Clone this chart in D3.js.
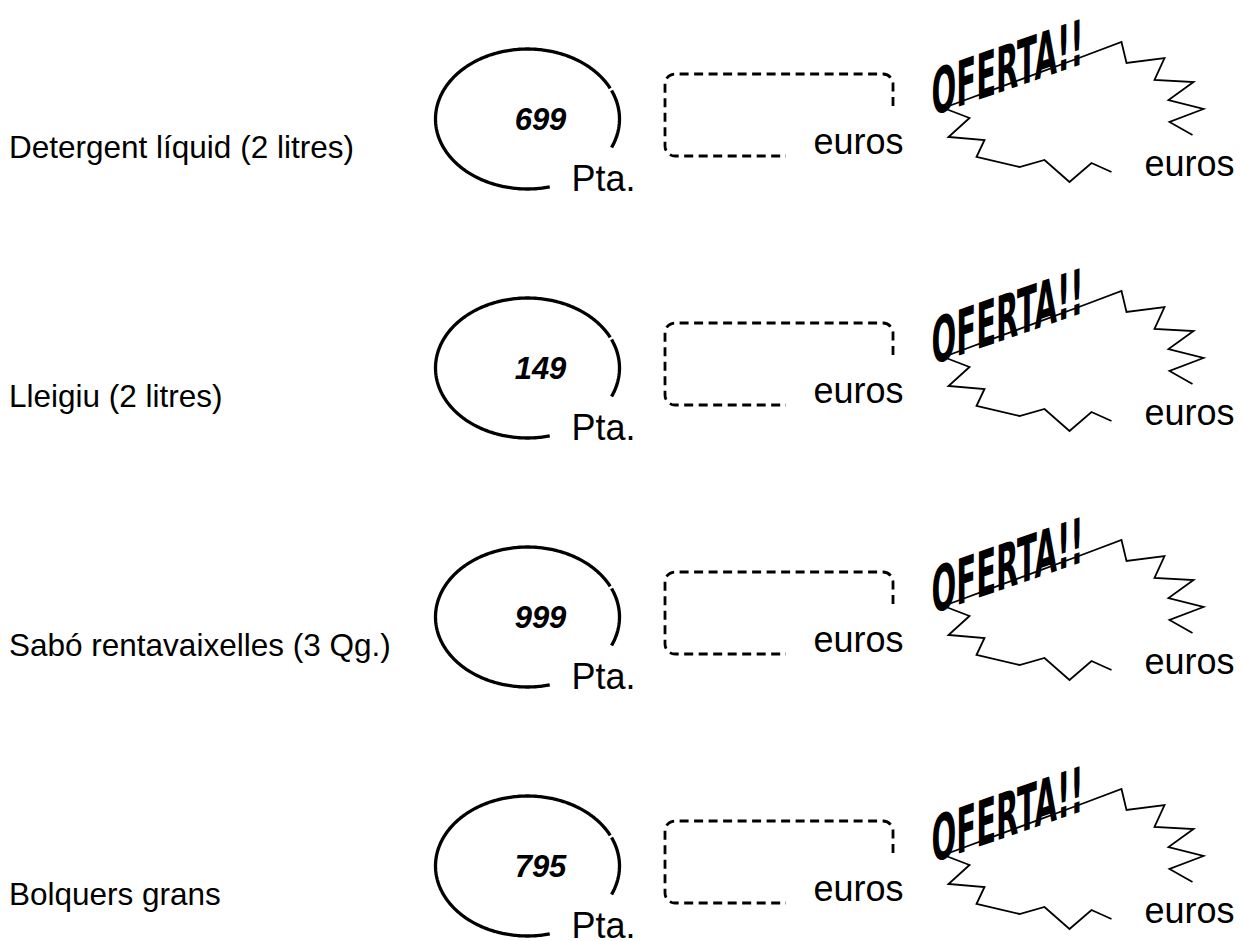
<!DOCTYPE html>
<html>
<head>
<meta charset="utf-8">
<script src="https://d3js.org/d3.v7.min.js"></script>
<style>
  body { margin: 0; background: #fff; }
  text { font-family: "Liberation Sans", Arial, sans-serif; fill: #000; }
</style>
</head>
<body>
<script>
// worksheet rows: product, price in pesetas
var labels = ["Detergent líquid (2 litres)", "Lleigiu (2 litres)", "Sabó rentavaixelles (3 Qg.)", "Bolquers grans"];
var pricesPta = [699, 149, 999, 795];
var unitPta = "Pta.";
var unitEuro = "euros";
var offerText = "OFERTA!!";

var width = 1243, height = 941;
var cx = 527.5;            // ellipse centre x
var rx = 92, ry = 70;      // ellipse radii

// star outline around the "OFERTA!!" word, relative to the ellipse centre
var burstShape = [
  [416, -11], [442, -1], [421, 18], [457, 21], [449, 38], [492, 48], [517, 41],
  [542, 63], [564, 44], [584, 53]
];
var burstShape2 = [
  [665, 16], [642, 3], [676, -10], [641, -19], [666, -37], [627, -39], [637, -61],
  [599, -56], [594, -77], [554, -62], [416, -11]
];

var items = labels.map(function (l, i) { return {label: l, price: pricesPta[i]}; });

var y = d3.scalePoint().domain(labels).range([119, 866]);

var svg = d3.select("body").append("svg")
    .attr("width", width)
    .attr("height", height);

svg.selectAll("text.label")
    .data(items)
    .join("text")
    .attr("class", "label")
    .attr("x", 9)
    .attr("y", function (d) { return y(d.label) + 39; })
    .style("font-size", "31.5px")
    .text(function (d) { return d.label; });

var rows = svg.selectAll("g.row")
    .data(items)
    .join("g")
    .attr("class", "row")
    .attr("transform", function (d) { return "translate(" + cx + "," + y(d.label) + ")"; });

// open ellipse (gap at lower right for "Pta.")
var rad = Math.PI / 180;
var ell = d3.line()
    .x(function (a) { return rx * Math.cos(a * rad); })
    .y(function (a) { return ry * Math.sin(a * rad); });
var seg1 = d3.range(76, 334.5, 1);
var seg2 = d3.range(336, 384.5, 1);

rows.append("path")
    .attr("d", ell(seg1) + ell(seg2))
    .attr("fill", "none")
    .attr("stroke", "#000")
    .attr("stroke-width", 3.3);

rows.append("text")
    .attr("x", 13)
    .attr("y", 11)
    .attr("text-anchor", "middle")
    .style("font-size", "31px")
    .style("font-weight", "bold")
    .style("font-style", "italic")
    .text(function (d) { return d.price; });

rows.append("text")
    .attr("x", 44)
    .attr("y", 72)
    .style("font-size", "36px")
    .text(unitPta);

// dashed open box for the euro answer
var bx0 = 137.5, by0 = -45, bx1 = 365.5, by1 = 37, r = 10;
var p = d3.path();
p.moveTo(bx1, by0 + 32);
p.lineTo(bx1, by0 + r);
p.arcTo(bx1, by0, bx1 - r, by0, r);
p.lineTo(bx0 + r, by0);
p.arcTo(bx0, by0, bx0, by0 + r, r);
p.lineTo(bx0, by1 - r);
p.arcTo(bx0, by1, bx0 + r, by1, r);
p.lineTo(bx0 + 121, by1);

rows.append("path")
    .attr("d", p.toString())
    .attr("fill", "none")
    .attr("stroke", "#000")
    .attr("stroke-width", 2.8)
    .attr("stroke-dasharray", "9,5.5");

rows.append("text")
    .attr("x", 286)
    .attr("y", 35)
    .style("font-size", "36px")
    .text(unitEuro);

// starburst
var burstLine = d3.line();
rows.append("path")
    .attr("d", burstLine(burstShape) + burstLine(burstShape2))
    .attr("fill", "none")
    .attr("stroke", "#000")
    .attr("stroke-width", 1.8)
    .attr("stroke-linejoin", "miter");

rows.append("text")
    .attr("transform", "translate(404,-3) skewY(-19)")
    .attr("textLength", 152)
    .attr("lengthAdjust", "spacingAndGlyphs")
    .style("font-family", "'Liberation Sans Narrow', 'DejaVu Sans Condensed', sans-serif")
    .style("font-weight", "bold")
    .style("font-size", "63px")
    .text(offerText);

rows.append("text")
    .attr("x", 617)
    .attr("y", 57)
    .style("font-size", "36px")
    .text(unitEuro);
</script>
</body>
</html>
